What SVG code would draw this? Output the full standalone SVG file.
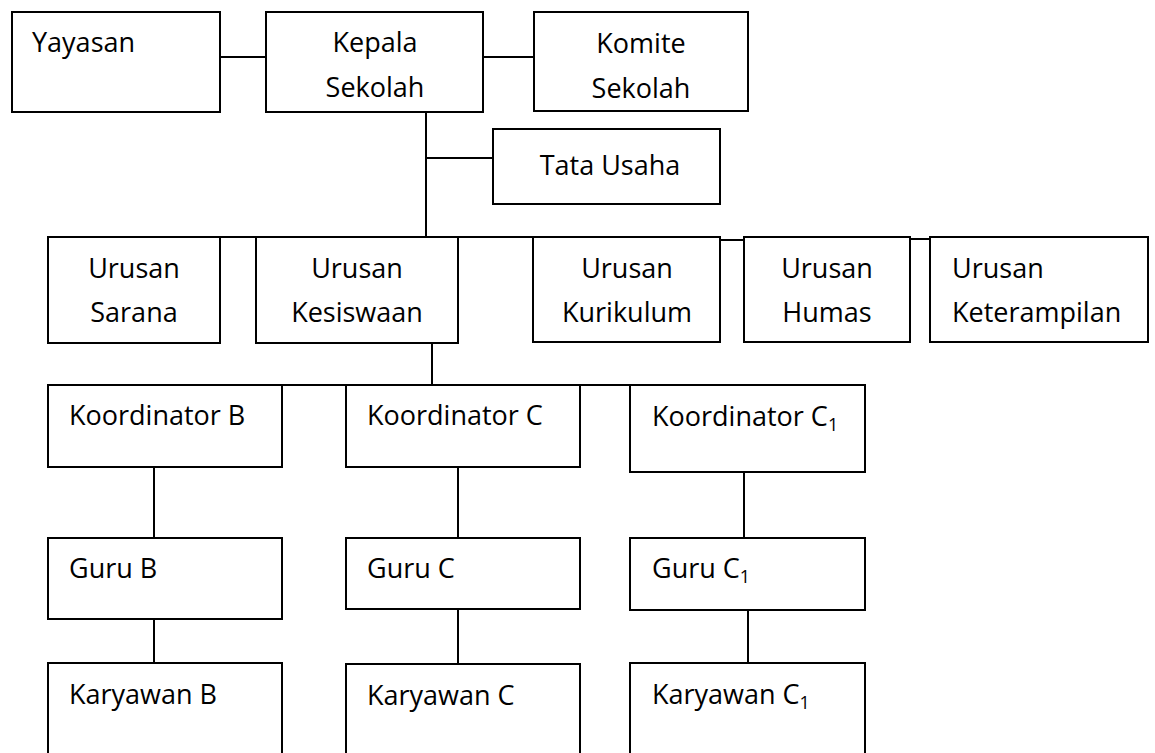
<svg xmlns="http://www.w3.org/2000/svg" width="1155" height="753" viewBox="0 0 1155 753">
<style>
rect{fill:#fff;stroke:#000;stroke-width:2}
#connectors line{stroke:#000;stroke-width:2}
text{font-family:"Open Sans","Liberation Sans",sans-serif;font-size:27px;fill:#000}
.c{text-anchor:middle}
.sub{font-size:18px}
</style>
<rect x="0" y="0" width="1155" height="753" style="fill:#fff;stroke:none"/>
<g id="connectors">
<line x1="220" y1="57" x2="266" y2="57"/>
<line x1="483" y1="57" x2="534" y2="57"/>
<line x1="426" y1="112" x2="426" y2="237"/>
<line x1="426" y1="158" x2="493" y2="158"/>
<line x1="220" y1="237" x2="533" y2="237"/>
<line x1="720" y1="240" x2="744" y2="240"/>
<line x1="910" y1="239" x2="930" y2="239"/>
<line x1="432" y1="343" x2="432" y2="385"/>
<line x1="48" y1="385" x2="630" y2="385"/>
<line x1="154" y1="467" x2="154" y2="538"/>
<line x1="154" y1="619" x2="154" y2="663"/>
<line x1="458" y1="467" x2="458" y2="538"/>
<line x1="458" y1="609" x2="458" y2="664"/>
<line x1="744" y1="472" x2="744" y2="538"/>
<line x1="748" y1="610" x2="748" y2="663"/>
</g>
<g id="yayasan"><rect x="12" y="12" width="208" height="100"/><text x="32" y="52">Yayasan</text></g>
<g id="kepala"><rect x="266" y="12" width="217" height="100"/><text class="c" x="375" y="52">Kepala</text><text class="c" x="375" y="97">Sekolah</text></g>
<g id="komite"><rect x="534" y="12" width="214" height="99"/><text class="c" x="641" y="53">Komite</text><text class="c" x="641" y="98">Sekolah</text></g>
<g id="tata-usaha"><rect x="493" y="129" width="227" height="75"/><text class="c" x="610" y="175">Tata Usaha</text></g>
<g id="sarana"><rect x="48" y="237" width="172" height="106"/><text class="c" x="134" y="278">Urusan</text><text class="c" x="134" y="322">Sarana</text></g>
<g id="kesiswaan"><rect x="256" y="237" width="202" height="106"/><text class="c" x="357" y="278">Urusan</text><text class="c" x="357" y="322">Kesiswaan</text></g>
<g id="kurikulum"><rect x="533" y="237" width="187" height="105"/><text class="c" x="627" y="278">Urusan</text><text class="c" x="627" y="322">Kurikulum</text></g>
<g id="humas"><rect x="744" y="237" width="166" height="105"/><text class="c" x="827" y="278">Urusan</text><text class="c" x="827" y="322">Humas</text></g>
<g id="keterampilan"><rect x="930" y="237" width="218" height="105"/><text x="952" y="278">Urusan</text><text x="952" y="322">Keterampilan</text></g>
<g id="koordinator-b"><rect x="48" y="385" width="234" height="82"/><text x="69" y="425">Koordinator B</text></g>
<g id="koordinator-c"><rect x="346" y="385" width="234" height="82"/><text x="367" y="425">Koordinator C</text></g>
<g id="koordinator-c1"><rect x="630" y="385" width="235" height="87"/><text x="652" y="426">Koordinator C<tspan class="sub" dy="5">1</tspan></text></g>
<g id="guru-b"><rect x="48" y="538" width="234" height="81"/><text x="69" y="578">Guru B</text></g>
<g id="guru-c"><rect x="346" y="538" width="234" height="71"/><text x="367" y="578">Guru C</text></g>
<g id="guru-c1"><rect x="630" y="538" width="235" height="72"/><text x="652" y="578">Guru C<tspan class="sub" dy="5">1</tspan></text></g>
<g id="karyawan-b"><rect x="48" y="663" width="234" height="100"/><text x="69" y="704">Karyawan B</text></g>
<g id="karyawan-c"><rect x="346" y="664" width="234" height="100"/><text x="367" y="705">Karyawan C</text></g>
<g id="karyawan-c1"><rect x="630" y="663" width="235" height="100"/><text x="652" y="704">Karyawan C<tspan class="sub" dy="5">1</tspan></text></g>
</svg>
